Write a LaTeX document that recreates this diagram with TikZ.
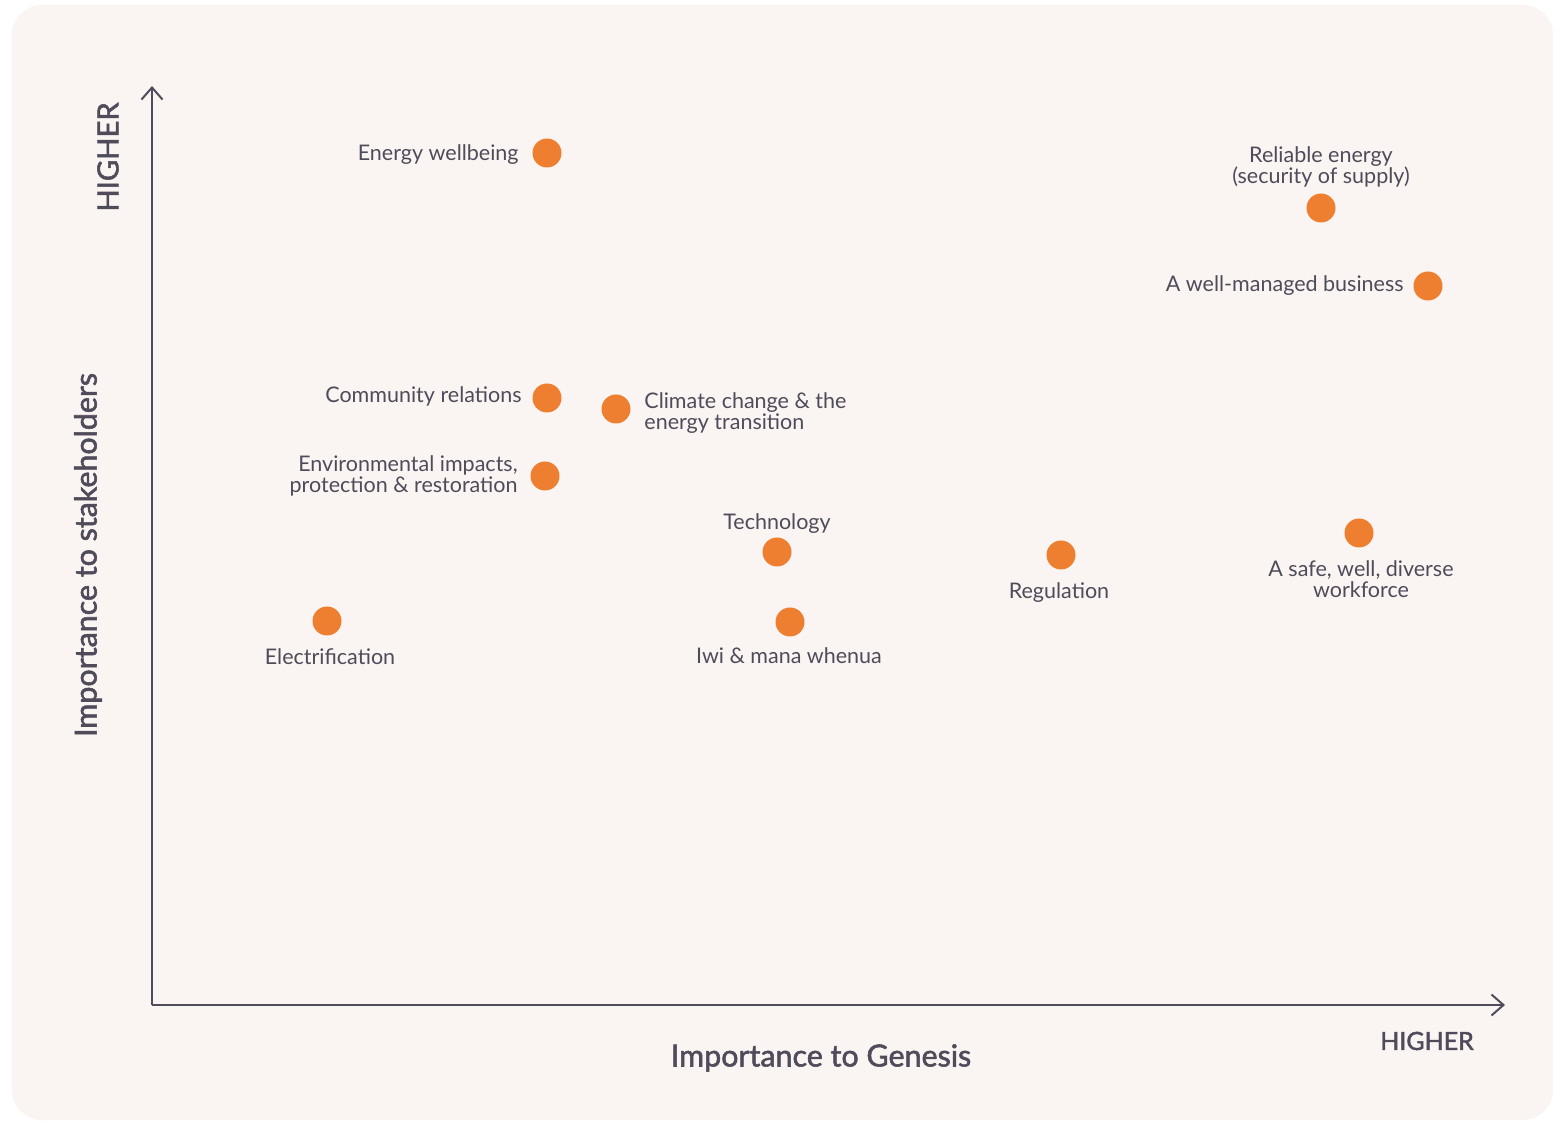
\documentclass[tikz,border=0pt]{standalone}
\usepackage{fontspec}
\setmainfont{Lato}
\newfontfamily\medfont{Lato}[FakeBold=1.8]
\usetikzlibrary{arrows.meta}
\definecolor{bgc}{HTML}{FAF5F2}
\definecolor{ink}{HTML}{4F4B5A}
\definecolor{dotc}{HTML}{EF7F30}
\begin{document}
\begin{tikzpicture}[x=0.5pt,y=-0.5pt,
  dot/.style={circle,fill=dotc,inner sep=0pt,minimum size=14.5pt},
  lbl/.style={text=ink,font=\fontsize{10.75}{10.6}\selectfont,inner sep=0pt},
  axis/.style={draw=ink,line width=1pt,-{Straight Barb[length=6pt,width=10.5pt,line width=1pt]}},
  axlbl/.style={text=ink,font=\medfont\fontsize{15.2}{15.2}\selectfont,inner sep=0pt},
  hi/.style={text=ink,font=\medfont\fontsize{12.5}{12.5}\selectfont,inner sep=0pt}]
\useasboundingbox (0,0) rectangle (1560,1122);
\fill[white] (0,0) rectangle (1560,1122);
\fill[bgc,rounded corners=15pt] (12,5) rectangle (1553,1120);
% axes
\coordinate (O) at (152,1005);
\coordinate (ytop) at (152,86);
\coordinate (xend) at (1505,1005);
\draw[axis] (O) -- (ytop);
\draw[axis] (O) -- (xend);
\node[axlbl] (xl) at (821,1058) {Importance to Genesis};
\node[axlbl,rotate=90] (yl) at (88,555) {Importance to stakeholders};
\node[hi] (xh) at (1427,1041) {HIGHER};
\node[hi,rotate=90,font=\medfont\fontsize{14.6}{14.6}\selectfont] (yh) at (108,157) {HIGHER};
% dots
\node[dot] (d1) at (547,153) {};
\node[dot] (d2) at (1321,208) {};
\node[dot] (d3) at (1428,286) {};
\node[dot] (d4) at (547,398) {};
\node[dot] (d5) at (616,409) {};
\node[dot] (d6) at (545,476) {};
\node[dot] (d7) at (777,552) {};
\node[dot] (d8) at (1061,555) {};
\node[dot] (d9) at (1359,533) {};
\node[dot] (d10) at (327,621) {};
\node[dot] (d11) at (790,622) {};
% labels
\node[lbl,anchor=east] (l1) at (519,155) {Energy wellbeing};
\node[lbl,align=center] (l2) at (1321,167) {Reliable energy\\(security of supply)};
\node[lbl,anchor=east] (l3) at (1404,286) {A well-managed business};
\node[lbl,anchor=east] (l4) at (522,396) {Community relations};
\node[lbl,anchor=west,align=left] (l5) at (644,413) {Climate change \& the\\energy transition};
\node[lbl,anchor=east,align=right] (l6) at (518,476) {Environmental impacts,\\protection \& restoration};
\node[lbl] (l7) at (777,524) {Technology};
\node[lbl] (l8) at (1059,593) {Regulation};
\node[lbl,align=center] (l9) at (1361,579) {A safe, well, diverse\\workforce};
\node[lbl] (l10) at (330,657) {Electrification};
\node[lbl] (l11) at (789,656) {Iwi \& mana whenua};
\end{tikzpicture}
\end{document}
